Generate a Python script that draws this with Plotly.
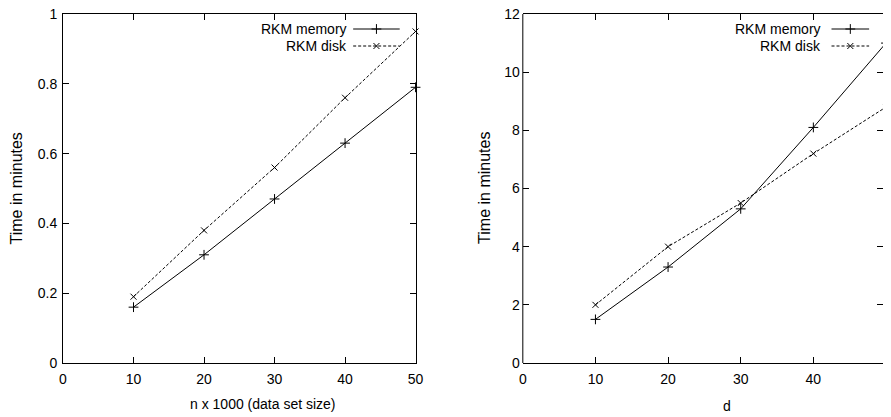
import plotly.graph_objects as go

# ---- data ----
x_n = [10, 20, 30, 40, 50]
mem_n = [0.16, 0.31, 0.47, 0.63, 0.79]
disk_n = [0.19, 0.38, 0.56, 0.76, 0.95]

x_d = [10, 20, 30, 40, 50]
mem_d = [1.5, 3.3, 5.3, 8.1, 11.0]
disk_d = [2.0, 4.0, 5.5, 7.2, 8.8]

left_yticks = [0, 0.2, 0.4, 0.6, 0.8, 1]
left_yticklabels = ["0", "0.2", "0.4", "0.6", "0.8", "1"]
right_yticks = [0, 2, 4, 6, 8, 10, 12]
xticks = [0, 10, 20, 30, 40, 50]

series_names = ["RKM memory", "RKM disk"]

W, H = 891, 417
ML, MR, MT, MB = 63, 0, 14, 54
PW = W - ML - MR
PH = H - MT - MB
L_end = 419
R_start = 527.3
R_x50 = 894.0  # right panel x=50 lies just beyond the image edge

font = "Liberation Sans, Arial, sans-serif"

fig = go.Figure()

mem_line = dict(color="black", width=1)
disk_line = dict(color="black", width=1, dash="3px,2px")
mem_marker = dict(symbol="cross-thin-open", size=7, line=dict(color="black", width=1), color="black")
disk_marker = dict(symbol="x-thin-open", size=6, line=dict(color="black", width=1), color="black")

fig.add_trace(go.Scatter(x=x_n, y=mem_n, mode="lines+markers", line=mem_line, marker=mem_marker,
                         xaxis="x", yaxis="y", showlegend=False, cliponaxis=False))
fig.add_trace(go.Scatter(x=x_n, y=disk_n, mode="lines+markers", line=disk_line, marker=disk_marker,
                         xaxis="x", yaxis="y", showlegend=False, cliponaxis=False))
fig.add_trace(go.Scatter(x=x_d, y=mem_d, mode="lines+markers", line=mem_line, marker=mem_marker,
                         xaxis="x2", yaxis="y2", showlegend=False))
fig.add_trace(go.Scatter(x=x_d, y=disk_d, mode="lines+markers", line=disk_line, marker=disk_marker,
                         xaxis="x2", yaxis="y2", showlegend=False))


def pxx(v):
    return (v - ML) / PW


def pxy(v):
    return (H - MB - v) / PH


# legend samples drawn on a pixel-based helper axis (x3/y3)
def legend(text_right, line_x0, line_x1, ys):
    for name, y, ln, mk in zip(series_names, ys, [mem_line, disk_line], [mem_marker, disk_marker]):
        fig.add_trace(go.Scatter(x=[line_x0, line_x1], y=[y, y], mode="lines", line=ln,
                                 xaxis="x3", yaxis="y3", showlegend=False, hoverinfo="skip"))
        fig.add_trace(go.Scatter(x=[(line_x0 + line_x1) / 2], y=[y], mode="markers", marker=mk,
                                 xaxis="x3", yaxis="y3", showlegend=False, hoverinfo="skip"))
        fig.add_annotation(x=pxx(text_right), y=pxy(y), xref="paper", yref="paper", text=name,
                           showarrow=False, xanchor="right", yanchor="middle",
                           font=dict(family=font, size=14, color="black"))


legend(352, 356, 403, [29, 46])
legend(830, 839, 877, [29, 46])

axis_common = dict(ticks="inside", ticklen=6, tickwidth=1, tickcolor="black",
                   showgrid=False, zeroline=False,
                   tickfont=dict(family=font, size=14, color="black"))

r_range_max = 50 * (W - R_start) / (R_x50 - R_start)

fig.update_layout(
    width=W, height=H,
    margin=dict(l=ML, r=MR, t=MT, b=MB),
    paper_bgcolor="white", plot_bgcolor="rgba(0,0,0,0)",
    xaxis=dict(domain=[0, pxx(L_end)], range=[0, 50], tickvals=xticks, showline=True, linecolor="black",
               linewidth=1, mirror="ticks", anchor="y", ticklabelstandoff=3, **axis_common),
    yaxis=dict(domain=[0, 1], range=[0, 1], tickvals=left_yticks, ticktext=left_yticklabels,
               showline=True, linecolor="black", linewidth=1, mirror="ticks", anchor="x",
               ticklabelstandoff=2, **axis_common),
    xaxis2=dict(domain=[pxx(R_start), 1], range=[0, r_range_max], tickvals=xticks, showline=True,
                linecolor="black", linewidth=1, mirror="ticks", anchor="y2", ticklabelstandoff=3,
                **axis_common),
    yaxis2=dict(domain=[0, 1], range=[0, 12], tickvals=right_yticks, showline=False,
                anchor="x2", ticklabelstandoff=2, **axis_common),
    yaxis4=dict(domain=[0, 1], range=[0, 12], tickvals=right_yticks, showline=False, showticklabels=False,
                overlaying="y2", side="right", anchor="x2", ticks="inside", ticklen=6, tickwidth=1,
                tickcolor="black", showgrid=False, zeroline=False),
    xaxis3=dict(domain=[0, 1], range=[ML, W], visible=False, anchor="y3", fixedrange=True),
    yaxis3=dict(domain=[0, 1], range=[H - MB, MT], visible=False, anchor="x3", fixedrange=True),
)

# dummy trace so the right-side tick axis is drawn
fig.add_trace(go.Scatter(x=[], y=[], xaxis="x2", yaxis="y4", showlegend=False))

# left border line of the right panel
fig.add_shape(type="line", xref="paper", yref="paper", x0=pxx(R_start), x1=pxx(R_start), y0=0, y1=1,
              line=dict(color="black", width=1))

# axis titles
fig.add_annotation(x=pxx(265), y=pxy(404), xref="paper", yref="paper", text="n x 1000 (data set size)",
                   showarrow=False, xanchor="center", yanchor="middle",
                   font=dict(family=font, size=14, color="black"))
fig.add_annotation(x=pxx(733), y=pxy(406), xref="paper", yref="paper", text="d", showarrow=False,
                   xanchor="center", yanchor="middle", font=dict(family=font, size=14, color="black"))
for xt in (16, 488):
    fig.add_annotation(x=pxx(xt), y=pxy(188), xref="paper", yref="paper", text="Time in minutes",
                       showarrow=False, textangle=-90, xanchor="center", yanchor="middle",
                       font=dict(family=font, size=16, color="black"))

fig.write_html("out.html", config={"displayModeBar": False},
               post_script="document.body.style.margin='0';")
